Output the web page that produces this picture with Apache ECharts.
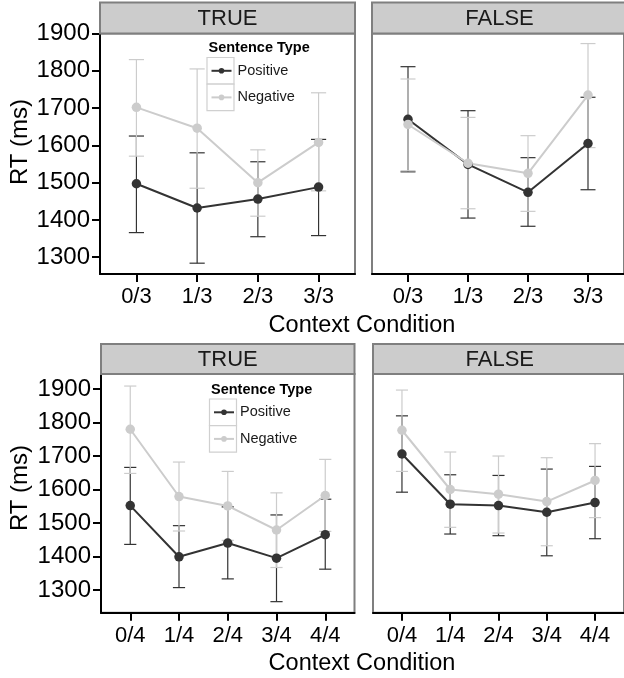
<!DOCTYPE html>
<html><head><meta charset="utf-8">
<script src="https://cdn.jsdelivr.net/npm/echarts@6/dist/echarts.min.js"></script>
<style>html,body{margin:0;padding:0;background:#fff}#c{width:624px;height:678px}</style>
</head><body><div id="c"></div>
<script>
const seriesNames = ['Positive', 'Negative'];
const facetNames = ['TRUE', 'FALSE'];
const catsTop = ['0/3', '1/3', '2/3', '3/3'];
const catsBottom = ['0/4', '1/4', '2/4', '3/4', '4/4'];
const yTicks = [1300, 1400, 1500, 1600, 1700, 1800, 1900];
const xTitle = 'Context Condition';
const yTitle = 'RT (ms)';
const legendTitle = 'Sentence Type';

// top row, TRUE
const topTruePos = [1497, 1432, 1456, 1488];
const topTruePosLo = [1366, 1284, 1355, 1358];
const topTruePosHi = [1625, 1580, 1556, 1616];
const topTrueNeg = [1702, 1646, 1500, 1608];
const topTrueNegLo = [1571, 1485, 1410, 1478];
const topTrueNegHi = [1830, 1805, 1588, 1741];
// top row, FALSE
const topFalsePos = [1670, 1549, 1474, 1605];
const topFalsePosLo = [1529, 1405, 1383, 1481];
const topFalsePosHi = [1811, 1693, 1567, 1729];
const topFalseNeg = [1656, 1552, 1525, 1735];
const topFalseNegLo = [1532, 1430, 1423, 1594];
const topFalseNegHi = [1778, 1675, 1626, 1873];
// bottom row, TRUE
const botTruePos = [1552, 1399, 1440, 1395, 1465];
const botTruePosLo = [1436, 1307, 1333, 1265, 1362];
const botTruePosHi = [1666, 1492, 1548, 1524, 1571];
const botTrueNeg = [1780, 1579, 1551, 1479, 1582];
const botTrueNegLo = [1648, 1476, 1448, 1367, 1475];
const botTrueNegHi = [1909, 1682, 1654, 1590, 1690];
// bottom row, FALSE
const botFalsePos = [1706, 1556, 1552, 1532, 1561];
const botFalsePosLo = [1592, 1467, 1462, 1402, 1453];
const botFalsePosHi = [1820, 1644, 1642, 1661, 1669];
const botFalseNeg = [1777, 1600, 1586, 1564, 1627];
const botFalseNegLo = [1654, 1487, 1470, 1432, 1516];
const botFalseNegHi = [1897, 1712, 1700, 1695, 1737];

const FONT = '"Liberation Sans", Arial, Helvetica, sans-serif';
const DARK = '#333333', LIGHT = '#cccccc', BORDER = '#7f7f7f';

const panels = [
  {left: 100, top: 33.5, width: 255, height: 240.5, stripTop: 2.5, ymin: 1255, ymax: 1900, cats: catsTop, facet: 0, showY: true,
   pos: topTruePos, posLo: topTruePosLo, posHi: topTruePosHi, neg: topTrueNeg, negLo: topTrueNegLo, negHi: topTrueNegHi},
  {left: 372, top: 33.5, width: 255, height: 240.5, stripTop: 2.5, ymin: 1255, ymax: 1900, cats: catsTop, facet: 1, showY: false,
   pos: topFalsePos, posLo: topFalsePosLo, posHi: topFalsePosHi, neg: topFalseNeg, negLo: topFalseNegLo, negHi: topFalseNegHi},
  {left: 101, top: 374, width: 253.5, height: 238.7, stripTop: 344, ymin: 1232, ymax: 1945, cats: catsBottom, facet: 0, showY: true,
   pos: botTruePos, posLo: botTruePosLo, posHi: botTruePosHi, neg: botTrueNeg, negLo: botTrueNegLo, negHi: botTrueNegHi},
  {left: 373, top: 374, width: 253.5, height: 238.7, stripTop: 344, ymin: 1232, ymax: 1945, cats: catsBottom, facet: 1, showY: false,
   pos: botFalsePos, posLo: botFalsePosLo, posHi: botFalsePosHi, neg: botFalseNeg, negLo: botFalseNegLo, negHi: botFalseNegHi}
];

function errRender(params, api) {
  const x = api.value(0), lo = api.value(1), hi = api.value(2);
  const pLo = api.coord([x, lo]), pHi = api.coord([x, hi]);
  const l = api.coord([x - 0.125, lo])[0], r = api.coord([x + 0.125, lo])[0];
  const style = {stroke: api.visual('color'), lineWidth: 1.2, fill: null};
  return {type: 'group', children: [
    {type: 'line', shape: {x1: pLo[0], y1: pLo[1], x2: pHi[0], y2: pHi[1]}, style: style},
    {type: 'line', shape: {x1: l, y1: pLo[1], x2: r, y2: pLo[1]}, style: style},
    {type: 'line', shape: {x1: l, y1: pHi[1], x2: r, y2: pHi[1]}, style: style}
  ]};
}

const grid = [], xAxis = [], yAxis = [], series = [], graphic = [];
panels.forEach((p, i) => {
  const idx = p.cats.map((c, k) => k);
  grid.push({left: p.left, top: p.top, width: p.width, height: p.height, show: true,
    borderColor: BORDER, borderWidth: 2, backgroundColor: '#fff', containLabel: false});
  xAxis.push({gridIndex: i, type: 'value', min: -0.6, max: p.cats.length - 1 + 0.6, z: 6,
    splitLine: {show: false},
    axisLine: {show: true, onZero: false, lineStyle: {color: '#000', width: 2}},
    axisTick: {show: true, length: 8, lineStyle: {color: '#000', width: 2}, customValues: idx},
    axisLabel: {show: true, customValues: idx, formatter: v => p.cats[Math.round(v)],
      fontSize: 22, color: '#000', margin: 12, fontFamily: FONT}});
  yAxis.push({gridIndex: i, type: 'value', min: p.ymin, max: p.ymax, show: p.showY, z: 6,
    splitLine: {show: false},
    axisLine: {show: true, onZero: false, lineStyle: {color: '#000', width: 2}},
    axisTick: {show: true, length: 8, lineStyle: {color: '#000', width: 2}, customValues: yTicks},
    axisLabel: {show: true, customValues: yTicks, formatter: v => String(Math.round(v)),
      fontSize: 24, color: '#000', margin: 10, fontFamily: FONT}});
  // error bars
  series.push({type: 'custom', name: 'Positive SE', xAxisIndex: i, yAxisIndex: i, z: 2,
    itemStyle: {color: DARK}, renderItem: errRender, encode: {x: 0, y: [1, 2]},
    data: p.pos.map((v, k) => [k, p.posLo[k], p.posHi[k]])});
  series.push({type: 'custom', name: 'Negative SE', xAxisIndex: i, yAxisIndex: i, z: 2,
    itemStyle: {color: LIGHT}, renderItem: errRender, encode: {x: 0, y: [1, 2]},
    data: p.neg.map((v, k) => [k, p.negLo[k], p.negHi[k]])});
  // lines + points
  series.push({type: 'line', name: seriesNames[0], xAxisIndex: i, yAxisIndex: i, z: 3,
    symbol: 'circle', symbolSize: 9.5, showAllSymbol: true,
    lineStyle: {color: DARK, width: 2}, itemStyle: {color: DARK, borderWidth: 0},
    emphasis: {disabled: true}, animation: false,
    data: p.pos.map((v, k) => [k, v])});
  series.push({type: 'line', name: seriesNames[1], xAxisIndex: i, yAxisIndex: i, z: 3,
    symbol: 'circle', symbolSize: 9.5, showAllSymbol: true,
    lineStyle: {color: LIGHT, width: 2}, itemStyle: {color: LIGHT, borderWidth: 0},
    emphasis: {disabled: true}, animation: false,
    data: p.neg.map((v, k) => [k, v])});
  // strip
  graphic.push({type: 'rect', z: 10,
    shape: {x: p.left, y: p.stripTop, width: p.width, height: p.top - p.stripTop},
    style: {fill: '#cccccc', stroke: BORDER, lineWidth: 2}});
  graphic.push({type: 'text', z: 11, x: p.left + p.width / 2, y: (p.stripTop + p.top) / 2 + 0.5,
    style: {text: facetNames[p.facet], fill: '#1a1a1a', font: '22px ' + FONT, align: 'center', verticalAlign: 'middle'}});
});

// axis titles
[326, 664].forEach(y => graphic.push({type: 'text', z: 11, x: 362, y: y,
  style: {text: xTitle, fill: '#000', font: '23.5px ' + FONT, align: 'center', verticalAlign: 'middle'}}));
[142, 488].forEach(y => graphic.push({type: 'text', z: 11, x: 20, y: y, rotation: Math.PI / 2,
  style: {text: yTitle, fill: '#000', font: '24px ' + FONT, align: 'center', verticalAlign: 'middle'}}));

// legend boxes and titles
const legendSpecs = [{boxX: 207, boxY: 57.5, titleY: 47.5}, {boxX: 209.5, boxY: 399, titleY: 390}];
const legend = [];
legendSpecs.forEach(s => {
  graphic.push({type: 'text', z: 11, x: s.boxX + 1.5, y: s.titleY,
    style: {text: legendTitle, fill: '#000', font: 'bold 14.5px ' + FONT, align: 'left', verticalAlign: 'middle'}});
  [0, 1].forEach(k => graphic.push({type: 'rect', z: 3,
    shape: {x: s.boxX, y: s.boxY + k * 26.6, width: 27, height: 26.6},
    style: {fill: '#fff', stroke: '#d0d0d0', lineWidth: 1.2}}));
  legend.push({data: seriesNames, orient: 'vertical', left: s.boxX + 3.5, top: s.boxY + 13.3 - 8,
    padding: 0, itemWidth: 20, itemHeight: 7, itemGap: 10.6, selectedMode: false, z: 5,
    textStyle: {fontSize: 14.5, lineHeight: 16, color: '#1a1a1a', fontFamily: FONT, padding: [0, 0, 0, 1]}});
});

const chart = echarts.init(document.getElementById('c'), null, {renderer: 'canvas'});
chart.setOption({animation: false, backgroundColor: '#fff', grid, xAxis, yAxis, series, legend, graphic});
</script></body></html>
